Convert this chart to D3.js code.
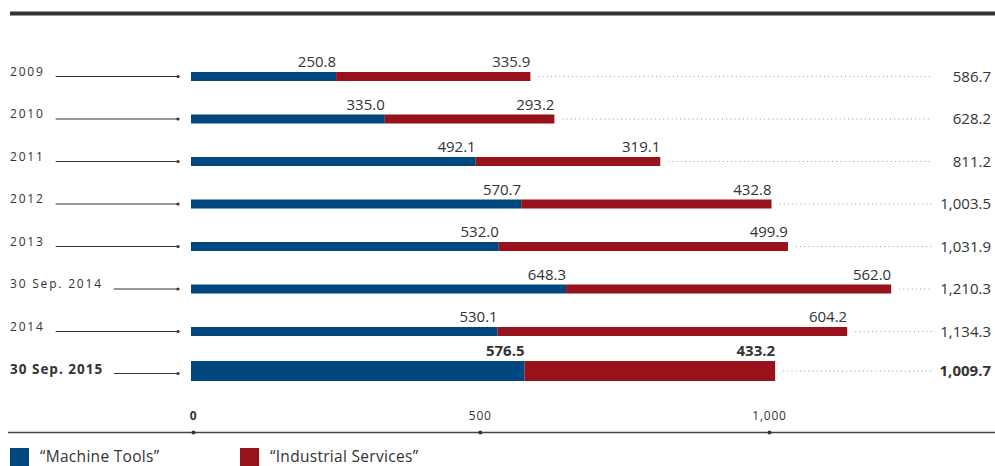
<!DOCTYPE html>
<html>
<head>
<meta charset="utf-8">
<script src="https://cdn.jsdelivr.net/npm/d3@7"></script>
<style>
  body { margin: 0; background: #fff; }
  svg { display: block; font-family: "Open Sans", "Noto Sans", sans-serif; }
</style>
</head>
<body>
<div class="order-chart"></div>
<script>
const categories = ["2009", "2010", "2011", "2012", "2013", "30 Sep. 2014", "2014", "30 Sep. 2015"];
const machineTools = [250.8, 335.0, 492.1, 570.7, 532.0, 648.3, 530.1, 576.5];
const industrialServices = [335.9, 293.2, 319.1, 432.8, 499.9, 562.0, 604.2, 433.2];
const totals = [586.7, 628.2, 811.2, 1003.5, 1031.9, 1210.3, 1134.3, 1009.7];
const tickValues = [0, 500, 1000];
const highlight = "30 Sep. 2015";

const width = 995;
const height = 466;
const blue = "#00467f";
const red = "#97121a";
const ink = "#333";

const svg = d3.select(".order-chart")
    .append("svg")
    .attr("width", width)
    .attr("height", height);

const x = d3.scaleLinear().domain([0, 1000]).range([191, 769.5]);
const y = d3.scalePoint().domain(categories).range([76.5, 374]);
const fmt = d3.format(",.1f");

const rows = categories.map(function(c, i) {
    const hi = c === highlight;
    return {
        cat: c, mt: machineTools[i], is: industrialServices[i], total: totals[i], hi: hi,
        cy: hi ? y(c) - 3 : y(c),
        h: hi ? 20 : 9
    };
});

// top rule
svg.append("rect")
    .attr("x", 10).attr("y", 11.5)
    .attr("width", width - 10).attr("height", 4)
    .attr("fill", ink);

const g = svg.selectAll(".row")
    .data(rows)
    .enter()
    .append("g")
    .attr("class", "row");

// category labels
g.append("text")
    .attr("class", "cat")
    .attr("x", 10)
    .attr("y", d => d.hi ? d.cy + 3 : d.cy - 1)
    .attr("font-size", d => d.hi ? 13.5 : 12)
    .attr("font-weight", d => d.hi ? "bold" : "normal")
    .attr("letter-spacing", d => d.hi ? 1 : 1.8)
    .attr("fill", ink)
    .text(d => d.cat);

// leader lines
g.each(function(d) {
    const gg = d3.select(this);
    const tw = gg.select("text.cat").node().getComputedTextLength();
    const ly = d.hi ? d.cy + 2.5 : d.cy;
    gg.append("line")
        .attr("x1", 10 + tw + 11).attr("x2", 178)
        .attr("y1", ly).attr("y2", ly)
        .attr("stroke", ink).attr("stroke-width", 1);
    gg.append("circle")
        .attr("cx", 178).attr("cy", ly).attr("r", 1.6)
        .attr("fill", ink);
});

// bars
g.append("rect")
    .attr("x", x(0))
    .attr("y", d => d.cy - d.h / 2)
    .attr("width", d => x(d.mt) - x(0))
    .attr("height", d => d.h)
    .attr("fill", blue);

g.append("rect")
    .attr("x", d => x(d.mt))
    .attr("y", d => d.cy - d.h / 2)
    .attr("width", d => x(d.mt + d.is) - x(d.mt))
    .attr("height", d => d.h)
    .attr("fill", red);

// segment values
g.append("text")
    .attr("x", d => x(d.mt))
    .attr("y", d => d.cy - d.h / 2 - 5)
    .attr("text-anchor", "end")
    .attr("font-size", 15)
    .attr("font-weight", d => d.hi ? "bold" : "normal")
    .attr("fill", ink)
    .text(d => fmt(d.mt));

g.append("text")
    .attr("x", d => x(d.mt + d.is))
    .attr("y", d => d.cy - d.h / 2 - 5)
    .attr("text-anchor", "end")
    .attr("font-size", 15)
    .attr("font-weight", d => d.hi ? "bold" : "normal")
    .attr("fill", ink)
    .text(d => fmt(d.is));

// dotted guides to totals
g.append("line")
    .attr("x1", d => x(d.mt + d.is) + 8)
    .attr("x2", 932)
    .attr("y1", d => d.cy).attr("y2", d => d.cy)
    .attr("stroke", "#999")
    .attr("stroke-width", 1)
    .attr("stroke-dasharray", "1,3.2");

g.append("text")
    .attr("x", 991)
    .attr("y", d => d.cy + 5)
    .attr("text-anchor", "end")
    .attr("font-size", 15)
    .attr("font-weight", d => d.hi ? "bold" : "normal")
    .attr("fill", ink)
    .text(d => fmt(d.total));

// x axis
const axisY = 432.5;
svg.append("line")
    .attr("x1", 8).attr("x2", width)
    .attr("y1", axisY).attr("y2", axisY)
    .attr("stroke", "#444").attr("stroke-width", 1.5);

const ticks = svg.selectAll(".tick")
    .data(tickValues)
    .enter()
    .append("g")
    .attr("class", "tick")
    .attr("transform", d => "translate(" + (d === 0 ? x(d) + 2.5 : x(d)) + ",0)");

ticks.append("circle")
    .attr("cy", axisY).attr("r", 2)
    .attr("fill", ink);

ticks.append("text")
    .attr("y", axisY - 13)
    .attr("text-anchor", "middle")
    .attr("font-size", 12)
    .attr("letter-spacing", 0.8)
    .attr("font-weight", d => d === 0 ? "bold" : "normal")
    .attr("fill", ink)
    .text(d => d3.format(",")(d));

// legend
const legend = [
    { label: "\u201cMachine Tools\u201d", color: blue, x: 10 },
    { label: "\u201cIndustrial Services\u201d", color: red, x: 240 }
];
const lg = svg.selectAll(".legend")
    .data(legend)
    .enter()
    .append("g")
    .attr("class", "legend");

lg.append("rect")
    .attr("x", d => d.x).attr("y", 448)
    .attr("width", 19).attr("height", 18)
    .attr("fill", d => d.color);

lg.append("text")
    .attr("x", d => d.x + 30)
    .attr("y", 461.5)
    .attr("font-size", 15.5)
    .attr("letter-spacing", 0.3)
    .attr("fill", ink)
    .text(d => d.label);
</script>
</body>
</html>
